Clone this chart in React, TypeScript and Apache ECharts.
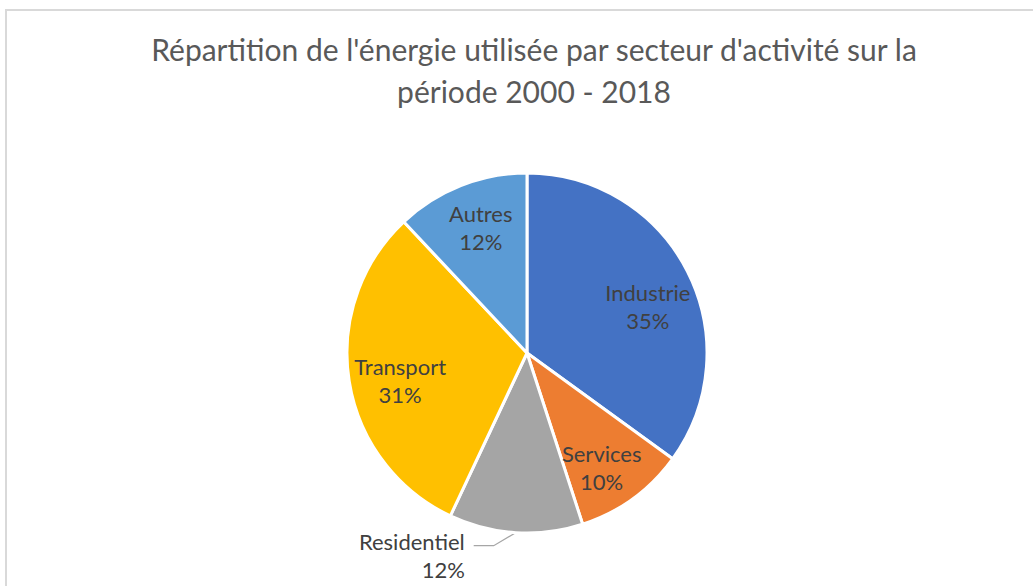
import React, { useEffect, useRef } from "react";
import * as echarts from "echarts";

const titleText = "Répartition de l'énergie utilisée par secteur d'activité sur la\npériode 2000 - 2018";
const categories = ["Industrie", "Services", "Residentiel", "Transport", "Autres"];
const values = [35, 10, 12, 31, 12];
const colors = ["#4472C4", "#ED7D31", "#A5A5A5", "#FFC000", "#5B9BD5"];
// label nudges from the default label position (visual placement only)
const labelShift: Record<string, [number, number]> = {
  Industrie: [38, -4],
  Services: [20, 39],
  Transport: [-35, 13],
  Autres: [-12, -39],
  Residentiel: [-25, 9],
};

export default function App() {
  const ref = useRef<HTMLDivElement>(null);
  useEffect(() => {
    if (!ref.current) return;
    const chart = echarts.init(ref.current, null, { renderer: "svg" });
    const data = categories.map((name, i) => {
      const item: any = { name, value: values[i], itemStyle: { color: colors[i] } };
      if (name === "Residentiel") {
        item.label = { position: "outside", alignTo: "none" };
        item.labelLine = { show: true, length: 14, length2: 20, lineStyle: { color: "#A6A6A6", width: 1.2 } };
      }
      return item;
    });
    chart.setOption({
      animation: false,
      backgroundColor: "#ffffff",
      title: {
        text: titleText,
        left: 529,
        top: 23,
        textAlign: "center",
        textStyle: {
          fontFamily: "Lato",
          fontSize: 30,
          fontWeight: "normal",
          color: "#595959",
          lineHeight: 42,
          align: "center",
        },
      },
      graphic: [
        {
          type: "polyline",
          shape: { points: [[1040, 10], [6, 10], [6, 600]] },
          style: { stroke: "#D9D9D9", lineWidth: 2, fill: "none" },
          silent: true,
        },
      ],
      series: [
        {
          type: "pie",
          center: [527, 353],
          radius: [0, 180],
          startAngle: 90,
          clockwise: true,
          data,
          itemStyle: { borderColor: "#ffffff", borderWidth: 3 },
          label: {
            show: true,
            position: "inside",
            formatter: (p: any) => `${p.name}\n${Math.round(p.percent)}%`,
            fontFamily: "Lato",
            fontSize: 22,
            lineHeight: 28,
            color: "#404040",
            textBorderWidth: 0,
          },
          labelLine: { show: false },
          labelLayout: (params: any) => {
            const name = categories[params.dataIndex];
            const s = labelShift[name];
            if (!s) return {};
            const out: any = { dx: s[0], dy: s[1] };
            const pts = params.labelLinePoints;
            if (name === "Residentiel" && pts && pts.length >= 3) {
              const p0 = pts[0];
              const p1 = [p0[0] - 22, p0[1] + 13];
              const p2 = [p1[0] - 20, p1[1]];
              out.labelLinePoints = [p0, p1, p2];
            }
            return out;
          },
          emphasis: { disabled: true },
        },
      ],
    });
    return () => chart.dispose();
  }, []);
  return (
    <div
      ref={ref}
      style={{ position: "fixed", left: 0, top: 0, width: 1033, height: 586, background: "#fff" }}
    />
  );
}
